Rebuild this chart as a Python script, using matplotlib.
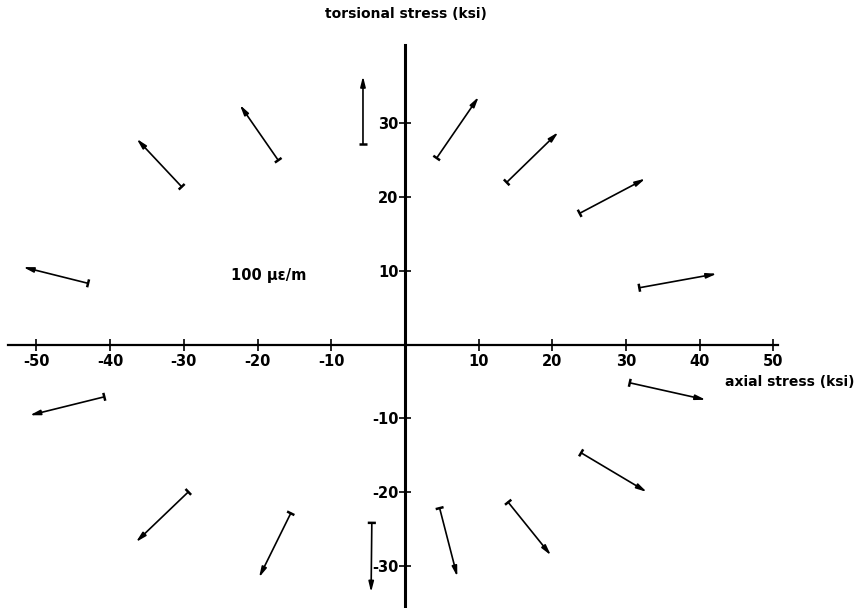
import numpy as np
import matplotlib
matplotlib.use("Agg")
import matplotlib.pyplot as plt

# base points of the arrows (axial stress, torsional stress), ksi
axial_stress = [-30.3, -17.2, -5.7, 4.3, 13.8, 23.7, 31.8, 30.5,
                23.9, 14.0, 4.7, -4.5, -15.5, -29.4, -40.8, -43.0]
torsional_stress = [21.4, 25.0, 27.2, 25.3, 22.0, 17.8, 7.7, -5.2,
                    -14.7, -21.4, -22.2, -24.2, -22.9, -20.0, -7.1, 8.3]
# arrow components (plotted in stress units)
strain_dx = [-6.1, -5.2, 0.0, 5.7, 7.0, 8.9, 10.5, 10.3,
             8.9, 5.8, 2.4, -0.1, -4.3, -7.1, -10.1, -8.8]
strain_dy = [6.5, 7.5, 9.2, 8.3, 6.8, 4.7, 1.9, -2.3,
             -5.3, -7.2, -9.3, -9.4, -8.7, -6.8, -2.5, 2.2]

x_ticks = [-50, -40, -30, -20, -10, 10, 20, 30, 40, 50]
x_tick_labels = ["-50", "-40", "-30", "-20", "-10", "10", "20", "30", "40", "50"]
y_ticks = [-30, -20, -10, 10, 20, 30]
y_tick_labels = ["-30", "-20", "-10", "10", "20", "30"]

plt.rcParams['font.family'] = ['DejaVu Sans']
plt.rcParams['axes.unicode_minus'] = False

fig = plt.figure(figsize=(8.57, 6.08), dpi=100)
ax = fig.add_axes([0, 0, 1, 1])
ax.set_xlim(-54.95, 61.33)
ax.set_ylim(-35.75, 46.74)
ax.set_facecolor('white')

for s in ['top', 'right']:
    ax.spines[s].set_visible(False)
ax.spines['bottom'].set_position(('data', 0))
ax.spines['left'].set_position(('data', 0))
ax.spines['bottom'].set_bounds(-53.9, 50.6)
ax.spines['left'].set_bounds(-35.75, 40.6)
ax.spines['bottom'].set_linewidth(1.6)
ax.spines['left'].set_linewidth(2.2)

ax.set_xticks(x_ticks)
ax.set_xticklabels(x_tick_labels, fontsize=10.5, fontweight='bold')
ax.set_yticks(y_ticks)
ax.set_yticklabels(y_tick_labels, fontsize=10.5, fontweight='bold')
ax.tick_params(axis='x', direction='inout', length=9, width=1.2, pad=2)
ax.tick_params(axis='y', direction='inout', length=9, width=1.2, pad=0)

for x0, y0, dx, dy in zip(axial_stress, torsional_stress, strain_dx, strain_dy):
    ax.annotate("", xy=(x0 + dx, y0 + dy), xytext=(x0, y0),
                arrowprops=dict(arrowstyle='-|>,head_length=0.6,head_width=0.15',
                                color='black', lw=1.2, shrinkA=0, shrinkB=0))
    L = np.hypot(dx, dy)
    px, py = -dy / L, dx / L
    h = 0.55
    ax.plot([x0 - px * h, x0 + px * h], [y0 - py * h, y0 + py * h],
            color='black', lw=1.8, solid_capstyle='butt')

ax.text(0.1, 44.9, "torsional stress (ksi)", ha='center', va='center',
        fontsize=10, fontweight='bold')
ax.text(61.0, -5.1, "axial stress (ksi)", ha='right', va='center',
        fontsize=10, fontweight='bold')
ax.text(-18.5, 9.3, "100 \u03bc\u03b5/m", ha='center', va='center',
        fontsize=10.5, fontweight='bold')

fig.savefig("out.png", dpi=100, facecolor='white')
